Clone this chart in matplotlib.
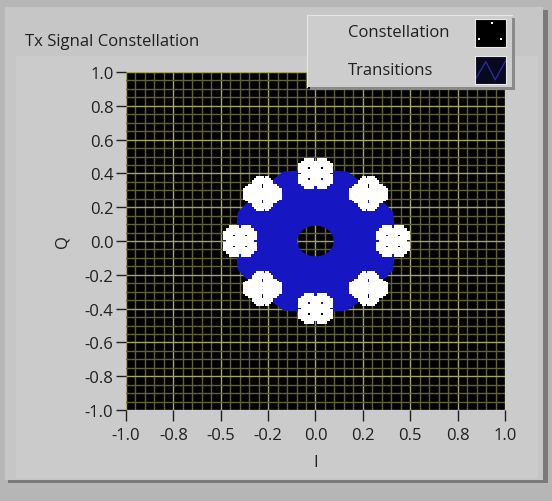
import numpy as np
import matplotlib.pyplot as plt
from matplotlib.path import Path
from matplotlib.patches import PathPatch, Rectangle

plt.rcParams['font.family'] = ['Open Sans', 'DejaVu Sans']
plt.rcParams['axes.unicode_minus'] = False

W, H = 552, 502

# constellation symbol centres (I, Q)
sym_i = [0.0, 0.28, 0.41, 0.28, 0.0, -0.28, -0.40, -0.28]
sym_q = [0.40, 0.28, 0.0, -0.28, -0.40, -0.28, 0.0, 0.28]

# shape of the point cloud around one symbol (X = point present),
# cell pitch in I/Q units
cluster_mask = [
    "..XXX.XXX..",
    ".XXXXXXXXX.",
    "XXXXXXXXXXX",
    "XXX.XXX.XXX",
    "XXXXXXXXXXX",
    ".XXXXXXXXX.",
    "XXXXXXXXXXX",
    "XXX.XXX.XXX",
    "XXXXXXXXXXX",
    ".XXXXXXXXX.",
    "..XXX.XXX..",
]
cell = 0.016

# transitions region: outer boundary radius at the symbols / between them,
# plus the empty hole in the middle
outer_r_sym = 0.42
outer_r_mid = 0.44
hole_r = 0.095

x_ticks = [-1.0, -0.75, -0.5, -0.25, 0.0, 0.25, 0.5, 0.75, 1.0]
x_labels = ['-1.0', '-0.8', '-0.5', '-0.2', '0.0', '0.2', '0.5', '0.8', '1.0']
y_ticks = [1.0, 0.8, 0.6, 0.4, 0.2, 0.0, -0.2, -0.4, -0.6, -0.8, -1.0]

# legend swatch contents
swatch_dots_x = [0.55, 0.12, 0.85]
swatch_dots_y = [0.85, 0.3, 0.28]
swatch_wave_x = [0.0, 0.35, 0.65, 1.0]
swatch_wave_y = [0.15, 0.8, 0.15, 0.85]

FS = 12
TXT = '#202020'


def px(x, y, w, h):
    """pixel box (top-left origin) -> figure fraction box"""
    return [x / W, 1 - (y + h) / H, w / W, h / H]


def panel(x, y, w, h, color, z):
    fig.patches.append(Rectangle((x / W, 1 - (y + h) / H), w / W, h / H,
                                 transform=fig.transFigure, facecolor=color,
                                 edgecolor='none', zorder=z))


fig = plt.figure(figsize=(W / 100, H / 100), dpi=100)
fig.patch.set_facecolor('#b6b6b6')

# raised panel behind the graph
panel(8, 11, 540, 473, '#7a7a7a', -10)
panel(5, 8, 538, 473, '#c6c6c6', -9)
panel(16, 57, 522, 422, '#cbcbcb', -8)

fig.text(25 / W, 1 - 42 / H, 'Tx Signal Constellation', fontsize=FS,
         va='center', ha='left', color=TXT)

ax = fig.add_axes(px(126, 73, 379, 338))
ax.set_facecolor('black')
ax.set_xlim(-1, 1)
ax.set_ylim(-1, 1)

# grid
minor = np.arange(-1, 1.001, 0.05)
ax.set_xticks(minor, minor=True)
ax.set_yticks(minor, minor=True)
ax.set_xticks(x_ticks)
ax.set_xticklabels(x_labels)
ax.set_yticks(y_ticks)
ax.set_yticklabels([f'{v:.1f}' for v in y_ticks])
ax.grid(which='minor', color='#62623a', linewidth=1.0)
ax.grid(which='major', color='#a4a46c', linewidth=1.0)
ax.set_axisbelow(True)
ax.tick_params(which='minor', length=0)
ax.tick_params(axis='y', which='major', direction='out', length=7, width=1,
               color=TXT, labelsize=FS, labelcolor=TXT, pad=2)
ax.tick_params(axis='x', which='major', direction='out', length=8, width=1,
               color=TXT, labelsize=FS, labelcolor=TXT, pad=4)
for s in ax.spines.values():
    s.set_visible(False)

ax.set_xlabel('I', fontsize=FS, color=TXT, labelpad=8)
ax.set_ylabel('Q', fontsize=FS, color=TXT, labelpad=10)

# transitions (filled region with a hole)
si = np.array(sym_i)
sq = np.array(sym_q)
sym_ang = np.arctan2(sq, si)
outer = []
for a in sym_ang:
    outer.append([outer_r_sym * np.cos(a), outer_r_sym * np.sin(a)])
    b = a - np.pi / 8
    outer.append([outer_r_mid * np.cos(b), outer_r_mid * np.sin(b)])
outer = np.array(outer)
ang = np.linspace(0, 2 * np.pi, 40)
inner = np.column_stack([hole_r * np.cos(ang) * 1.05, hole_r * np.sin(ang)])
verts = np.vstack([outer, outer[:1], inner, inner[:1]])
codes = ([Path.MOVETO] + [Path.LINETO] * (len(outer) - 1) + [Path.CLOSEPOLY]
         + [Path.MOVETO] + [Path.LINETO] * (len(inner) - 1) + [Path.CLOSEPOLY])
ax.add_patch(PathPatch(Path(verts, codes), facecolor='#1616c2',
                       edgecolor='#1616c2', linewidth=1, zorder=2))

# constellation points: the cloud shape turns with the symbol angle
n = len(cluster_mask)
cells = [((c - n // 2) * cell, (n // 2 - r) * cell)
         for r, row in enumerate(cluster_mask)
         for c, ch in enumerate(row) if ch == 'X']
cdx = np.array([p[0] for p in cells])
cdy = np.array([p[1] for p in cells])
for x0, y0, a in zip(si, sq, sym_ang):
    rot = a - np.round(a / (np.pi / 2)) * (np.pi / 2)
    rx = cdx * np.cos(rot) - cdy * np.sin(rot)
    ry = cdx * np.sin(rot) + cdy * np.cos(rot)
    ax.plot(x0 + rx, y0 + ry, 's', color='white', markersize=2.5,
            markeredgewidth=0, zorder=3)

# legend, drawn on top of the plot area
leg_sh = fig.add_axes(px(310, 19, 205, 72), zorder=4)
leg_sh.set_facecolor('#8a8a8a')
leg = fig.add_axes(px(307, 16, 205, 72), zorder=5)
leg.set_facecolor('#cdcdcd')
for a in (leg_sh, leg):
    a.set_xticks([])
    a.set_yticks([])
    for s in a.spines.values():
        s.set_visible(False)
leg.spines['left'].set_visible(True)
leg.spines['top'].set_visible(True)
leg.spines['left'].set_color('#e6e6e6')
leg.spines['top'].set_color('#e6e6e6')
leg.text(41 / 205, 1 - 17 / 72, 'Constellation', fontsize=FS, va='center',
         ha='left', color=TXT, transform=leg.transAxes)
leg.text(41 / 205, 1 - 55 / 72, 'Transitions', fontsize=FS, va='center',
         ha='left', color=TXT, transform=leg.transAxes)

sw1 = fig.add_axes(px(475, 20, 31, 28), zorder=6)
sw1.set_facecolor('black')
sw1.plot(swatch_dots_x, swatch_dots_y, 's', color='white', markersize=2,
         markeredgewidth=0)
sw2 = fig.add_axes(px(475, 57, 31, 28), zorder=6)
sw2.set_facecolor('#080820')
sw2.plot(swatch_wave_x, swatch_wave_y, color='#2a2a9a', linewidth=1)
for sw in (sw1, sw2):
    sw.set_xlim(0, 1)
    sw.set_ylim(0, 1)
    sw.set_xticks([])
    sw.set_yticks([])
    for s in sw.spines.values():
        s.set_color('#e8e8e8')

fig.savefig('out.png', dpi=100, facecolor=fig.get_facecolor())
